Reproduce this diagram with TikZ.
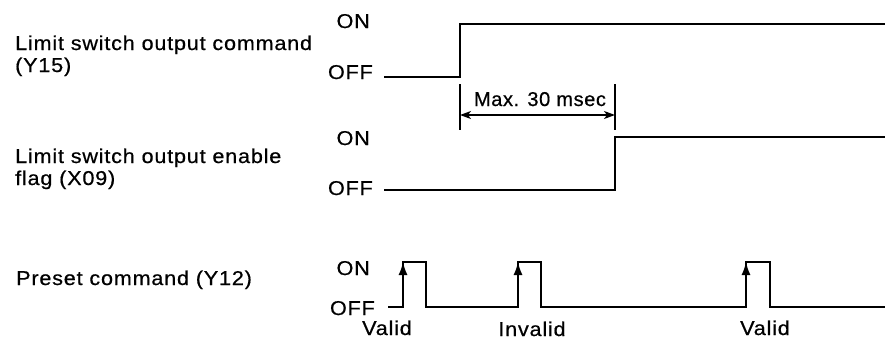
\documentclass[tikz,border=0pt]{standalone}
\usepackage{fontspec}
\setmainfont{Liberation Sans}
\newfontfamily\labfont{Liberation Sans}[FakeStretch=1.08,LetterSpace=4,FakeBold=0.6]
\newfontfamily\maxfont{Liberation Sans}[LetterSpace=3,FakeBold=0.6]
\usetikzlibrary{arrows.meta}
\begin{document}
\begin{tikzpicture}[x=1pt,y=-1pt,
  txt/.style={inner sep=0pt,font=\labfont\fontsize{20}{22}\selectfont},
  lvl/.style={inner sep=0pt,anchor=base east,font=\labfont\fontsize{20}{22}\selectfont},
  wave/.style={line width=1.6pt,line join=miter},
  dim/.style={line width=1.3pt},
  uparrow/.style={-{Latex[length=13pt,width=9pt]},line width=1.6pt}]
\useasboundingbox (0,0) rectangle (885,343);
% left labels
\node[txt,anchor=base west] (l1a) at (15,50) {Limit switch output command};
\node[txt,anchor=base west] (l1b) at (15,72) {(Y15)};
\node[txt,anchor=base west] (l2a) at (15,163) {Limit switch output enable};
\node[txt,anchor=base west] (l2b) at (15,185) {flag (X09)};
\node[txt,anchor=base west] (l3) at (16,285) {Preset command (Y12)};
% level labels
\node[lvl] (on1) at (370,28) {ON};
\node[lvl] (off1) at (373,79) {OFF};
\node[lvl] (on2) at (370,145) {ON};
\node[lvl] (off2) at (373,195) {OFF};
\node[lvl] (on3) at (370,275) {ON};
\node[lvl] (off3) at (375,315) {OFF};
% waveform 1
\draw[wave] (384,77) -- (460,77) -- (460,24) -- (885,24);
% waveform 2
\draw[wave] (384,190) -- (615,190) -- (615,137) -- (885,137);
% waveform 3
\draw[wave] (388,307) -- (403,307) -- (403,262) -- (426,262) -- (426,307)
  -- (518,307) -- (518,262) -- (541,262) -- (541,307)
  -- (746,307) -- (746,262) -- (770,262) -- (770,307) -- (885,307);
\draw[uparrow] (403,290) -- (403,262);
\draw[uparrow] (518,290) -- (518,262);
\draw[uparrow] (746,290) -- (746,262);
% dimension
\coordinate (da1) at (460,84);
\coordinate (da2) at (460,130);
\coordinate (db1) at (615,84);
\coordinate (db2) at (615,130);
\coordinate (aa) at (460,115);
\coordinate (ab) at (615,115);
\draw[dim] (da1) -- (da2);
\draw[dim] (db1) -- (db2);
\draw[dim,{Stealth[length=11pt,width=8pt,inset=3pt]}-{Stealth[length=11pt,width=8pt,inset=3pt]}] (aa) -- (ab);
\node[inner sep=0pt,anchor=base,font=\maxfont\fontsize{20}{22}\selectfont] (mx) at (540,106) {Max. 30 msec};
% validity labels
\node[txt,anchor=base] (v1) at (387,335) {Valid};
\node[txt,anchor=base] (v2) at (532,336) {Invalid};
\node[txt,anchor=base] (v3) at (765,335) {Valid};
\end{tikzpicture}
\end{document}
